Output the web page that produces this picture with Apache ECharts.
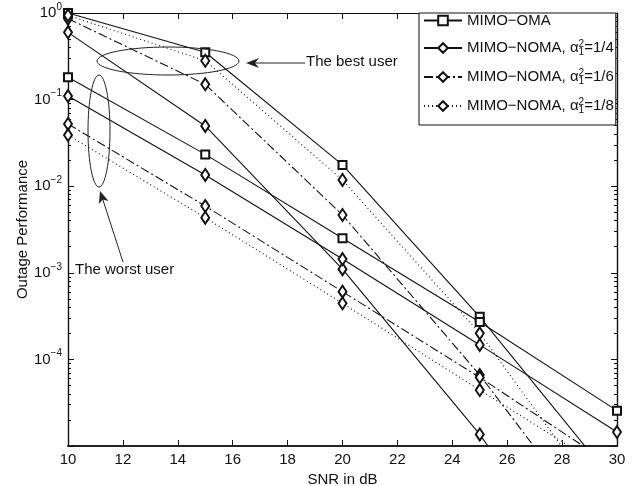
<!DOCTYPE html>
<html><head><meta charset="utf-8">
<script src="https://cdn.jsdelivr.net/npm/echarts@6/dist/echarts.min.js"></script>
<style>html,body{margin:0;padding:0;background:#fff}#c{width:638px;height:486px}</style>
</head><body><div id="c"></div>
<script>
// ---- data ----
var snr = [10, 15, 20, 25, 30];
var omaBest    = [1.0, 0.352, 0.0176, 3.1e-4, 3.5e-6];
var omaWorst   = [0.181, 0.0233, 0.00251, 2.7e-4, 2.56e-5];
var noma4Best  = [0.598, 0.0496, 0.0011, 1.36e-5, 7.7e-8];
var noma4Worst = [0.110, 0.0135, 0.00144, 1.47e-4, 1.45e-5];
var noma6Best  = [0.86, 0.150, 0.00465, 6.6e-5, 5.4e-7];
var noma6Worst = [0.0523, 0.0059, 6.05e-4, 6.2e-5, 5.5e-6];
var noma8Best  = [0.94, 0.281, 0.0118, 2.0e-4, 1.3e-6];
var noma8Worst = [0.039, 0.00433, 4.44e-4, 4.43e-5, 4.5e-6];
var names = ['MIMO\u2212OMA', 'MIMO\u2212NOMA, \u03b1\u2081\u00b2=1/4', 'MIMO\u2212NOMA, \u03b1\u2081\u00b2=1/6', 'MIMO\u2212NOMA, \u03b1\u2081\u00b2=1/8'];
var yMajor = [1e-5, 1e-4, 1e-3, 1e-2, 1e-1, 1];
var yLabels = [1e-4, 1e-3, 1e-2, 1e-1, 1];
var yMinor = [];
for (var e = -5; e < 0; e++) for (var m = 2; m <= 9; m++) yMinor.push(m * Math.pow(10, e));

var FONT = 'Liberation Sans, Arial, sans-serif';
var FS = 15;
function pairs(ys) { return snr.map(function (x, i) { return [x, ys[i]]; }); }

function mk(name, ys, sym, size, type) {
  return {
    name: name, type: 'line', data: pairs(ys), clip: true,
    symbol: sym, symbolSize: size, showSymbol: true,
    lineStyle: { color: '#111', width: 1.1, type: type },
    itemStyle: { color: '#111', borderColor: '#111', borderWidth: 1 },
    emphasis: { disabled: true }, animation: false, z: 3
  };
}
var dashDot = [9, 3, 2, 3];
var dotted = [1, 3];
var series = [
  mk(names[0], omaBest, 'emptyRect', 8, 'solid'),
  mk(names[0], omaWorst, 'emptyRect', 8, 'solid'),
  mk(names[1], noma4Best, 'emptyDiamond', [8, 12], 'solid'),
  mk(names[1], noma4Worst, 'emptyDiamond', [8, 12], 'solid'),
  mk(names[2], noma6Best, 'emptyDiamond', [8, 12], dashDot),
  mk(names[2], noma6Worst, 'emptyDiamond', [8, 12], dashDot),
  mk(names[3], noma8Best, 'emptyDiamond', [8, 12], dotted),
  mk(names[3], noma8Worst, 'emptyDiamond', [8, 12], dotted)
];

function yAx(pos, values, len, labels) {
  return {
    type: 'log', logBase: 10, min: 1e-5, max: 1, position: pos, offset: 0,
    axisLine: { show: true, onZero: false, lineStyle: { color: '#111', width: 1.2 } },
    axisTick: { show: true, inside: true, length: len, customValues: values, lineStyle: { color: '#111' } },
    axisLabel: labels ? {
      show: true, customValues: yLabels, margin: 6, fontFamily: FONT, fontSize: FS, color: '#111',
      formatter: function (v) { var p = Math.round(Math.log10(v)); return '{b|10}{s|' + (p === 0 ? '0' : '\u2212' + (-p)) + '}'; },
      rich: { b: { fontSize: FS, fontFamily: FONT, color: '#111' }, s: { fontSize: 10, fontFamily: FONT, color: '#111', padding: [0, 0, 12, 0] } }
    } : { show: false },
    splitLine: { show: false }, minorTick: { show: false }
  };
}

var chart = echarts.init(document.getElementById('c'), null, { renderer: 'canvas' });
chart.setOption({
  animation: false,
  backgroundColor: '#fff',
  grid: { left: 68, right: 21, top: 13, bottom: 40, containLabel: false, outerBoundsMode: 'none' },
  xAxis: [{
    type: 'value', min: 10, max: 30, interval: 2, position: 'bottom',
    name: 'SNR in dB', nameLocation: 'middle', nameGap: 24,
    nameTextStyle: { fontFamily: FONT, fontSize: FS, color: '#111' },
    axisLine: { show: true, onZero: false, lineStyle: { color: '#222', width: 2 } },
    axisTick: { inside: true, length: 6, lineStyle: { color: '#111' } },
    axisLabel: { fontFamily: FONT, fontSize: FS, color: '#111', margin: 6 },
    splitLine: { show: false }
  }, {
    type: 'value', min: 10, max: 30, interval: 2, position: 'top',
    axisLine: { show: true, onZero: false, lineStyle: { color: '#111', width: 1 } },
    axisTick: { inside: true, length: 6, lineStyle: { color: '#111' } },
    axisLabel: { show: false }, splitLine: { show: false }
  }],
  yAxis: [
    Object.assign(yAx('left', yMajor, 6, true), {
      name: 'Outage Performance', nameLocation: 'middle', nameGap: 38, nameMoveOverlap: false,
      nameTextStyle: { fontFamily: FONT, fontSize: FS, color: '#111' }
    }),
    yAx('left', yMinor, 3, false),
    yAx('right', yMajor, 6, false),
    yAx('right', yMinor, 3, false)
  ],
  legend: {
    orient: 'vertical', left: 419, top: 13,
    data: names,
    backgroundColor: '#fff', borderColor: '#111', borderWidth: 1,
    padding: [0, 2, 10, 4], itemGap: 11, itemWidth: 38, itemHeight: 12,
    textStyle: { fontFamily: FONT, fontSize: FS, color: '#111',
      rich: {
        t: { fontFamily: FONT, fontSize: FS, color: '#111', lineHeight: 20 },
        sup: { fontFamily: FONT, fontSize: 10, color: '#111', padding: [0, 0, 8, 0], width: 0.01, lineHeight: 12 },
        sub: { fontFamily: FONT, fontSize: 10, color: '#111', padding: [8, 0, 0, 0], lineHeight: 12 }
      }
    },
    formatter: function (n) {
      var i = n.indexOf('\u03b1');
      if (i < 0) return '{t|' + n + '}';
      return '{t|' + n.slice(0, i + 1) + '}{sup|2}{sub|1}{t|' + n.slice(i + 3) + '}';
    },
    selectedMode: false
  },
  series: series,
  graphic: [
    { type: 'ellipse', shape: { cx: 168, cy: 61, rx: 71, ry: 14 }, style: { fill: 'none', stroke: '#222', lineWidth: 1 }, z: 10 },
    { type: 'ellipse', shape: { cx: 99, cy: 131, rx: 11, ry: 56 }, style: { fill: 'none', stroke: '#222', lineWidth: 1 }, z: 10 },
    { type: 'line', shape: { x1: 305, y1: 63, x2: 250, y2: 63 }, style: { stroke: '#222', lineWidth: 1 }, z: 10 },
    { type: 'polygon', shape: { points: [[246, 63], [259, 58], [255, 63], [259, 68]] }, style: { fill: '#222' }, z: 10 },
    { type: 'text', left: 306, top: 54, style: { text: 'The best user', fontFamily: FONT, fontSize: FS, fill: '#111' }, z: 10 },
    { type: 'line', shape: { x1: 123, y1: 262, x2: 102, y2: 197 }, style: { stroke: '#222', lineWidth: 1 }, z: 10 },
    { type: 'polygon', shape: { points: [[100, 191], [108.5, 200.9], [102.8, 199.6], [98.9, 203.9]] }, style: { fill: '#222' }, z: 10 },
    { type: 'text', left: 75, top: 262, style: { text: 'The worst user', fontFamily: FONT, fontSize: FS, fill: '#111' }, z: 10 }
  ]
});
</script></body></html>
